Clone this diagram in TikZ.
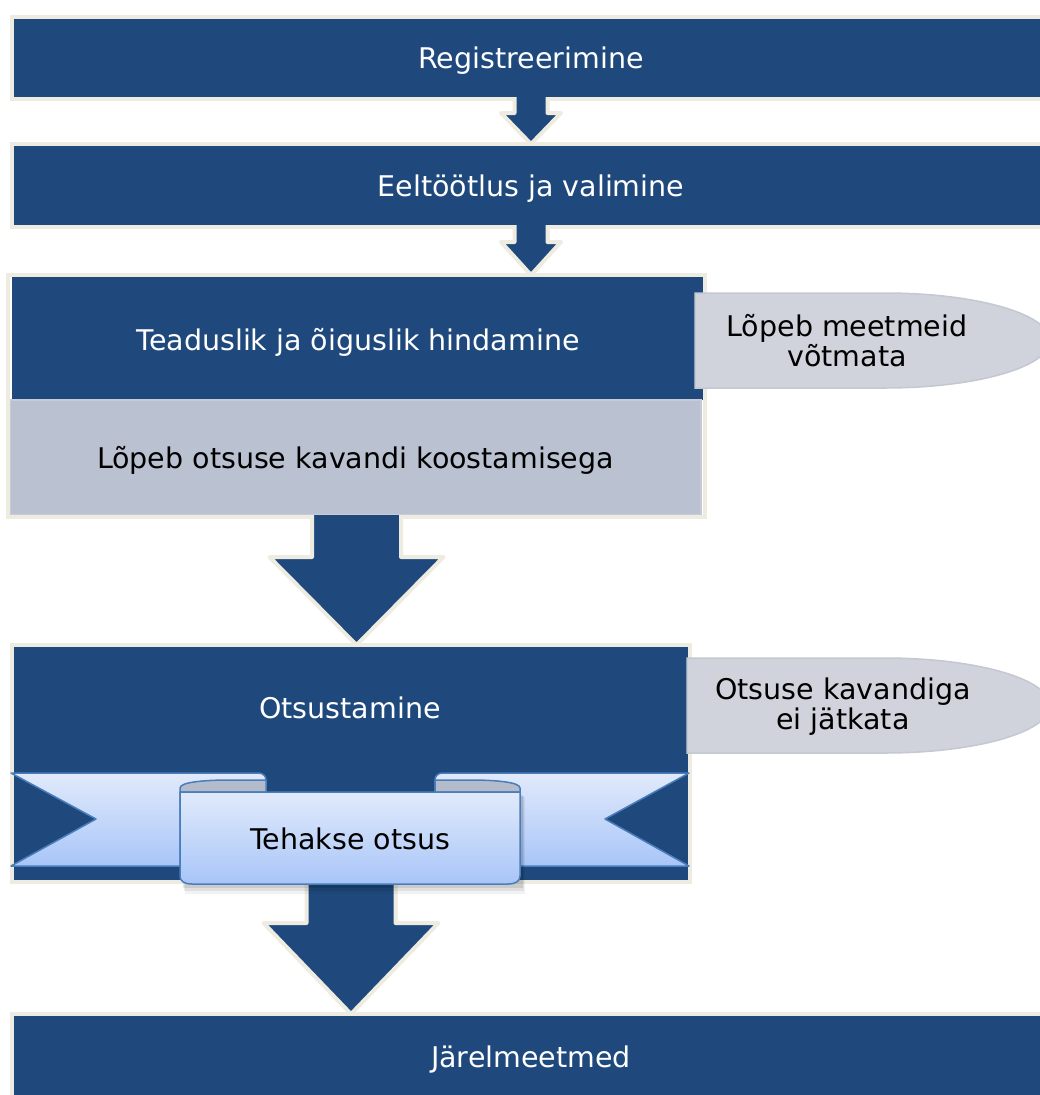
\documentclass[tikz,border=0pt]{standalone}
\usepackage{fontspec}
\setmainfont{DejaVu Sans}
\usetikzlibrary{calc,fit}
\definecolor{navy}{HTML}{1F497D}
\definecolor{beige}{HTML}{EEECE1}
\definecolor{draftgray}{HTML}{BAC1D0}
\definecolor{draftline}{HTML}{C6CBD7}
\definecolor{sidegray}{HTML}{D0D3DC}
\definecolor{sideline}{HTML}{C3C8D3}
\definecolor{ribtop}{HTML}{E1EAFB}
\definecolor{ribbot}{HTML}{A8C5F8}
\definecolor{ribline}{HTML}{4A7EBB}
\definecolor{curlgray}{HTML}{B4BCCB}
\tikzset{
  bigfont/.style={font=\fontsize{28.5}{30}\selectfont},
  lowtext/.style={text height=27pt, text depth=6pt},
  bluebox/.style={rectangle, fill=navy, draw=beige, line width=4pt, outer sep=0pt, inner sep=0pt, text=white, bigfont, lowtext},
  bluefill/.style={rectangle, fill=navy, outer sep=0pt, inner sep=0pt, text=white, bigfont},
  draftbox/.style={rectangle, fill=draftgray, draw=draftline, line width=2pt, outer sep=0pt, inner sep=0pt, text=black, bigfont, lowtext},
  frame/.style={rectangle, draw=beige, line width=4pt, inner sep=2pt, outer sep=0pt},
  whitetext/.style={text=white, bigfont, inner sep=0pt},
  blacktext/.style={text=black, bigfont, inner sep=0pt, align=center},
  arrowstyle/.style={fill=navy, draw=beige, line width=4pt, line join=round},
  sideshape/.style={fill=sidegray, draw=sideline, line width=1.5pt},
  wing/.style={top color=ribtop, bottom color=ribbot, draw=ribline, line width=1.5pt, line join=round},
  curl/.style={fill=curlgray, draw=ribline, line width=1.5pt, line join=round},
}
\newcommand\blockarrow[5]{%
  \filldraw[arrowstyle] let \p1=(#1.south), \p2=(#2.north) in
    (\x1-#3pt,\y1+2pt) -- (\x1-#3pt,\y2+#5pt) -- (\x1-#4pt,\y2+#5pt) -- (\x1,\y2)
    -- (\x1+#4pt,\y2+#5pt) -- (\x1+#3pt,\y2+#5pt) -- (\x1+#3pt,\y1+2pt);
}
\begin{document}
\begin{tikzpicture}[x=1pt,y=-1pt]
\useasboundingbox[fill=white] (0,0) rectangle (1040,1095);

% main boxes
\node[bluebox, minimum width=1038pt, minimum height=82pt] (b1) at (531,58) {Registreerimine};
\node[bluebox, minimum width=1038pt, minimum height=83pt] (b2) at (531,185.5) {Eeltöötlus ja valimine};
\node[bluefill, minimum width=691pt, minimum height=123pt] (eval) at (357.5,338.5) {};
\node[whitetext] (evalt) at (358,342) {Teaduslik ja õiguslik hindamine};
\node[draftbox, minimum width=691pt, minimum height=115pt] (draft) at (355.5,457.5) {Lõpeb otsuse kavandi koostamisega};
\node[frame, fit=(eval)(draft)] (b3) {};
\node[bluebox, minimum width=678pt, minimum height=237pt] (b4) at (351,763.5) {};
\node[whitetext] (b4t) at (350,708) {Otsustamine};
\node[bluebox, minimum width=1038pt, minimum height=86pt] (b5) at (531,1057) {Järelmeetmed};

% block arrows
\blockarrow{b1}{b2}{16.5}{30}{31}
\blockarrow{b2}{b3}{16.5}{30}{33}
\blockarrow{b3}{b4}{44.5}{87}{88}
\blockarrow{b4}{b5}{44.5}{87.5}{91}

% side shapes
\filldraw[sideshape] (695,293) -- (885,293) .. controls (976,293) and (1050,314) .. (1050,340.5)
  .. controls (1050,367) and (976,388) .. (885,388) -- (695,388) -- cycle;
\node[blacktext] (end1) at (847,341) {Lõpeb meetmeid\\võtmata};
\filldraw[sideshape] (687,658) -- (885,658) .. controls (976,658) and (1050,679) .. (1050,705.5)
  .. controls (1050,732) and (976,753) .. (885,753) -- (687,753) -- cycle;
\node[blacktext] (end2) at (843,707) {Otsuse kavandiga\\ei jätkata};

% ribbon
\shadedraw[wing] (11,773) -- (258,773) .. controls (263,773) and (266,776) .. (266,780) -- (266,792)
  -- (180,792) -- (180,866) -- (11,866) -- (96,819) -- cycle;
\shadedraw[wing] (689,773) -- (443,773) .. controls (438,773) and (435,776) .. (435,780) -- (435,792)
  -- (520,792) -- (520,866) -- (689,866) -- (605,819) -- cycle;
\filldraw[curl] (180,788) .. controls (180,782) and (205,780) .. (230,780) -- (266,780) -- (266,792) -- (180,792) -- cycle;
\filldraw[curl] (520,788) .. controls (520,782) and (495,780) .. (470,780) -- (435,780) -- (435,792) -- (520,792) -- cycle;
\fill[black, opacity=0.05] (185,797) rectangle (525,894);
\fill[black, opacity=0.07] (184,796) rectangle (524,891);
\fill[black, opacity=0.09] (183,795) rectangle (523,888);
\shadedraw[wing] (180,792) -- (180,876) .. controls (180,881) and (184,884) .. (192,884) -- (508,884)
  .. controls (516,884) and (520,881) .. (520,876) -- (520,792) -- cycle;
\node[blacktext] (rib) at (350,839) {Tehakse otsus};
\end{tikzpicture}
\end{document}
